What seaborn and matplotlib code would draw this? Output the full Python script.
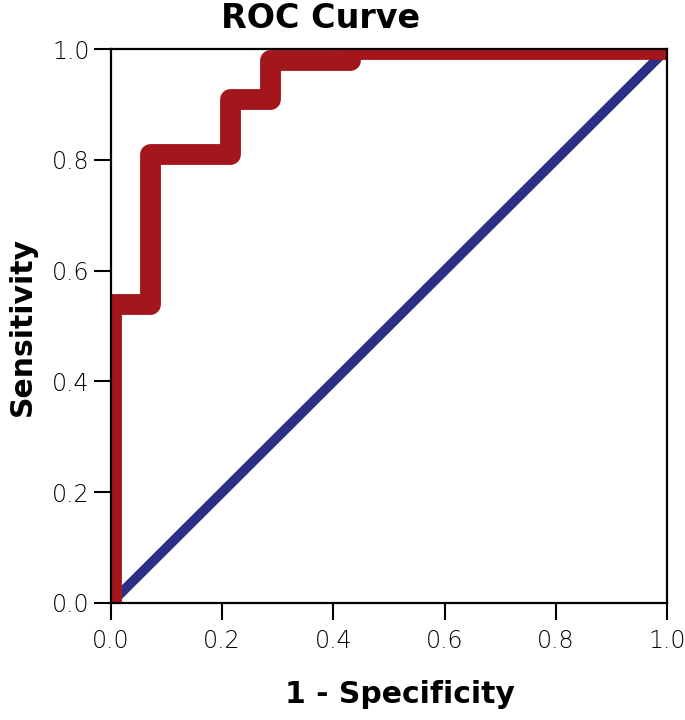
import matplotlib
matplotlib.use("Agg")
import matplotlib.pyplot as plt
import seaborn as sns
import pandas as pd

# ROC step curve (1 - specificity, sensitivity)
fpr = [0.0, 0.0, 0.071, 0.071, 0.214, 0.214, 0.286, 0.286, 0.43, 0.43, 1.0]
tpr = [0.0, 0.54, 0.54, 0.81, 0.81, 0.91, 0.91, 0.98, 0.98, 1.0, 1.0]
ref_x = [0.0, 1.0]
ref_y = [0.0, 1.0]
ticks = [0.0, 0.2, 0.4, 0.6, 0.8, 1.0]
tick_labels = ["0.0", "0.2", "0.4", "0.6", "0.8", "1.0"]

sns.set_theme(style="white")
plt.rcParams["font.family"] = ["DejaVu Sans"]

fig = plt.figure(figsize=(6.85, 7.2), dpi=100)
ax = fig.add_axes([0.162, 0.1625, 0.8117, 0.7694])

roc = pd.DataFrame({"fpr": fpr, "tpr": tpr})
ref = pd.DataFrame({"x": ref_x, "y": ref_y})

sns.lineplot(data=ref, x="x", y="y", ax=ax, color="#2b2f85", linewidth=7,
             sort=False, estimator=None, solid_capstyle="round", zorder=2)
sns.lineplot(data=roc, x="fpr", y="tpr", ax=ax, color="#a3171c", linewidth=15,
             sort=False, estimator=None, solid_joinstyle="round",
             solid_capstyle="round", zorder=3)

ax.set_xlim(0, 1)
ax.set_ylim(0, 1)
ax.set_xticks(ticks)
ax.set_xticklabels(tick_labels, fontweight="light")
ax.set_yticks(ticks)
ax.set_yticklabels(tick_labels, fontweight="light")
ax.tick_params(axis="both", direction="out", length=12.5, width=1.5, color="black",
               labelsize=17, labelcolor="black", left=True, bottom=True)
ax.tick_params(axis="x", pad=6)
ax.tick_params(axis="y", pad=3)
for s in ax.spines.values():
    s.set_color("black")
    s.set_linewidth(1.6)
    s.set_visible(True)
    s.set_zorder(4)

ax.set_xlabel("1 - Specificity", fontsize=21.5, fontweight="bold",
              labelpad=20, color="black", x=0.519)
ax.set_ylabel("Sensitivity", fontsize=21.5, fontweight="bold",
              labelpad=11, color="black")
ax.set_title("ROC Curve", fontsize=24, fontweight="bold",
             pad=15, color="black", x=0.377)

fig.savefig("out.png", dpi=100)
